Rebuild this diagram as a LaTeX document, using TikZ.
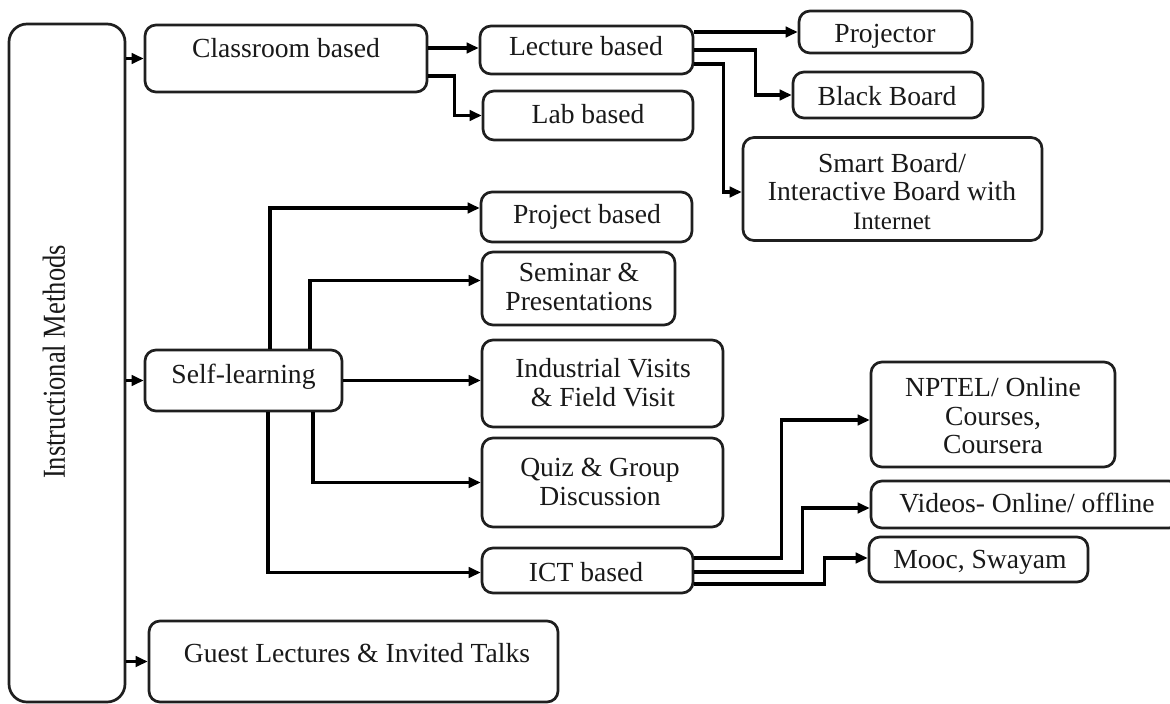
\documentclass[tikz,border=0pt]{standalone}
\usepackage{fontspec}
\setmainfont{Liberation Serif}
\usetikzlibrary{arrows.meta}

\begin{document}
\begin{tikzpicture}[x=1pt, y=-1pt,
  box/.style={draw=black!88, line width=2.7pt, rounded corners=11pt, inner sep=0pt, fill=white},
  txt/.style={font=\fontsize{27.6}{28.5}\selectfont, inner sep=0pt, text=black!90},
  lbl/.style={txt, anchor=base},
  blk/.style={txt, align=center, anchor=center},
  arr/.style={draw=black, line width=3.1pt, -{Triangle[length=12pt,width=10.5pt]}}
]
\useasboundingbox (0,0) rectangle (1170,704);

% ---- boxes ----
\node[box, rounded corners=18pt, minimum width=116pt, minimum height=678pt] (main) at (67,363) {};
\node[box, minimum width=282pt, minimum height=67pt] (cls)   at (286,58.5) {};
\node[box, minimum width=213pt, minimum height=48pt] (lec)   at (586.5,50) {};
\node[box, minimum width=210pt, minimum height=49pt] (lab)   at (588,115.5) {};
\node[box, minimum width=173pt, minimum height=42pt] (proj)  at (885.5,32) {};
\node[box, minimum width=190pt, minimum height=46pt] (bb)    at (888,95) {};
\node[box, minimum width=299pt, minimum height=103pt] (smart) at (892.5,189) {};
\node[box, minimum width=211pt, minimum height=50pt] (pb)    at (586.5,217) {};
\node[box, minimum width=193pt, minimum height=73pt] (sem)   at (578.5,288.5) {};
\node[box, minimum width=241pt, minimum height=87pt] (ind)   at (602.5,383.5) {};
\node[box, minimum width=241pt, minimum height=89pt] (quiz)  at (602.5,482.5) {};
\node[box, minimum width=211pt, minimum height=45pt] (ict)   at (587.5,570.5) {};
\node[box, minimum width=197pt, minimum height=61pt] (self)  at (243.5,380.5) {};
\node[box, minimum width=244pt, minimum height=105pt] (nptel) at (993,414.5) {};
\node[box, minimum width=309pt, minimum height=47pt] (vid)   at (1025.5,504.5) {};
\node[box, minimum width=219pt, minimum height=45pt] (mooc)  at (978.5,559.5) {};
\node[box, minimum width=409pt, minimum height=81pt] (guest) at (353.5,661.5) {};

% ---- texts ----
\node[txt, rotate=90] (main-t) at (54,362)
  {\scalebox{0.83}[1]{\fontsize{32}{34}\selectfont Instructional Methods}};
\node[lbl] (cls-t)   at (286,57)   {Classroom based};
\node[lbl] (lec-t)   at (586,55)   {Lecture based};
\node[lbl] (lab-t)   at (588,123)  {Lab based};
\node[lbl] (proj-t)  at (885,42)   {Projector};
\node[lbl] (bb-t)    at (887,105)  {Black Board};
\node[blk] (smart-t) at (892,191.5)
  {Smart Board/\\Interactive Board with\\{\fontsize{25}{28.5}\selectfont Internet}};
\node[lbl] (pb-t)    at (587,223)  {Project based};
\node[blk] (sem-t)   at (579,287)  {Seminar \&\\Presentations};
\node[blk] (ind-t)   at (603,382.5) {Industrial Visits\\\& Field Visit};
\node[blk] (quiz-t)  at (600,482)  {Quiz \& Group\\Discussion};
\node[lbl] (ict-t)   at (586,581)  {ICT based};
\node[lbl] (self-t)  at (243.5,383) {Self-learning};
\node[blk] (nptel-t) at (993,416)  {NPTEL/ Online\\Courses,\\Coursera};
\node[lbl] (vid-t)   at (1027,512) {Videos- Online/ offline};
\node[lbl] (mooc-t)  at (980,568)  {Mooc, Swayam};
\node[lbl] (guest-t) at (357,662)  {Guest Lectures \& Invited Talks};

% ---- connectors from the main box ----
\draw[arr] (main.east |- cls.west) -- (cls.west);
\draw[arr] (main.east |- self.west) -- (self.west);
\draw[arr] (main.east |- guest.west) -- (guest.west);

% ---- classroom branch ----
\draw[arr] (cls.east |- 0,48) -- (lec.west |- 0,48);
\draw[arr] (cls.east |- 0,76) -| ([xshift=-27pt]lab.west) -- (lab.west);
\draw[arr] (lec.east |- proj.west) -- (proj.west);
\draw[arr] (lec.east) -| ([xshift=-36pt]bb.west) -- (bb.west);
\draw[arr] (lec.east |- 0,64) -| ([xshift=-18pt,yshift=-3pt]smart.west) -- ([yshift=-3pt]smart.west);

% ---- self-learning branch ----
\draw[arr] (270,0 |- self.north) |- ([yshift=9pt]pb.west);
\draw[arr] (310,0 |- self.north) |- ([yshift=8pt]sem.west);
\draw[arr] (self.east) -- (self.east -| ind.west);
\draw[arr] (313,0 |- self.south) |- (quiz.west);
\draw[arr] (268,0 |- self.south) |- ([yshift=-2pt]ict.west);

% ---- ICT branch ----
\draw[arr] (ict.east |- 0,558) -| ([xshift=-88pt,yshift=-5.5pt]nptel.west) -- ([yshift=-5.5pt]nptel.west);
\draw[arr] (ict.east |- 0,572) -| ([xshift=-67pt,yshift=-3.5pt]vid.west) -- ([yshift=-3.5pt]vid.west);
\draw[arr] (ict.east |- 0,584) -| ([xshift=-43pt,yshift=1.5pt]mooc.west) -- ([yshift=1.5pt]mooc.west);
\end{tikzpicture}
\end{document}
